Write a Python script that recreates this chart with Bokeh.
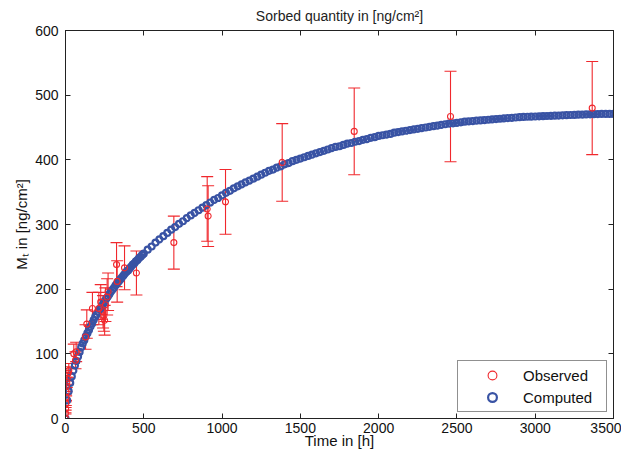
from bokeh.plotting import figure
from bokeh.models import (ColumnDataSource, Range1d, FixedTicker, LinearAxis,
                          Whisker, TeeHead, Legend, LegendItem)
from bokeh.embed import file_html
from bokeh.resources import INLINE

# ---------------- data ----------------
# observed sorbed quantity [ng/cm2] and its error
obs_t = [0, 0, 1, 2, 3, 4, 6, 8, 11, 16, 21, 53, 64, 68, 128, 136,
         172, 213, 225, 240, 245, 250, 255, 266, 272, 326, 330, 377, 453,
         692, 905, 911, 1022, 1384, 1844, 2459, 3364]
obs_v = [0, 8, 15, 23, 33, 41, 50, 56, 62, 70, 74, 100, 90, 103, 126, 146,
         170, 170, 180, 165, 159, 152, 176, 188, 196, 238, 212, 233, 225,
         272, 324, 313, 335, 396, 444, 467, 480]
obs_err = [0, 1, 2, 3, 5, 6, 8, 8, 9, 10, 11, 15, 13, 15, 19, 22,
           25, 25, 27, 25, 24, 23, 26, 28, 29, 34, 32, 34, 34,
           41, 50, 47, 50, 60, 67, 70, 72]

# computed (model) curve, sampled on a regular grid of times
comp_t = list(range(0, 510, 10)) + list(range(525, 3525, 25))
comp_v = [
    0, 28, 42, 55, 65, 74, 82, 89, 96, 103,
    110, 116, 121, 127, 132, 137, 142, 147, 152, 157,
    161, 165, 169, 173, 177, 181, 185, 188, 192, 196,
    199, 202, 206, 209, 212, 215, 218, 221, 224, 227,
    229, 232, 235, 238, 240, 243, 245, 248, 250, 253,
    255,
    261, 266, 272, 277, 282, 287, 292, 296, 301, 305,
    310, 314, 318, 322, 326, 330, 334, 338, 341, 345,
    349, 352, 356, 359, 362, 365, 368, 371, 374, 377,
    380, 383, 385, 388, 390, 393, 395, 398, 400, 402,
    404, 406, 408, 410, 412, 414, 416, 418, 420, 421,
    423, 425, 426, 428, 429, 431, 432, 434, 435, 437,
    438, 439, 440, 442, 443, 444, 445, 446, 447, 448,
    449, 450, 451, 452, 453, 454, 455, 456, 456.5, 457,
    458, 459, 459.5, 460, 460.5, 461, 461.5, 462, 462.5, 463,
    463.5, 464, 464.5, 465, 465.5, 466, 466.3, 466.6, 466.8, 467,
    467.3, 467.5, 467.8, 468, 468.3, 468.5, 468.8, 469, 469.3, 469.5,
    469.8, 470, 470.2, 470.4, 470.6, 470.8, 471, 471, 471, 471,
]

x_ticks = [0, 500, 1000, 1500, 2000, 2500, 3000, 3500]
y_ticks = [0, 100, 200, 300, 400, 500, 600]

title_text = "Sorbed quantity in [ng/cm\u00b2]"
x_label = "Time in [h]"
y_label = "M\u209c in [ng/cm\u00b2]"

# ---------------- figure ----------------
FONT = "Liberation Sans"
RED = "#f0282d"
BLUE = "#3953a4"

p = figure(width=621, height=453, output_backend="svg", toolbar_location=None,
           x_range=Range1d(x_ticks[0], x_ticks[-1]),
           y_range=Range1d(y_ticks[0], y_ticks[-1]),
           min_border_left=65, min_border_right=8, min_border_top=30,
           min_border_bottom=35, x_axis_label=x_label, y_axis_label=y_label)

p.grid.visible = False
p.outline_line_color = "#222222"
p.outline_line_width = 1
p.background_fill_color = "white"
p.border_fill_color = "white"

for ax in (p.xaxis[0], p.yaxis[0]):
    ax.major_tick_in = 5
    ax.major_tick_out = 0
    ax.minor_tick_line_color = None
    ax.axis_line_color = "#222222"
    ax.major_tick_line_color = "#222222"
    ax.major_label_text_font = FONT
    ax.major_label_text_font_size = "14px"
    ax.major_label_text_color = "#111111"
    ax.axis_label_text_font = FONT
    ax.axis_label_text_font_size = "15px"
    ax.axis_label_text_font_style = "normal"
    ax.axis_label_text_color = "#111111"

p.xaxis[0].ticker = FixedTicker(ticks=x_ticks)
p.yaxis[0].ticker = FixedTicker(ticks=y_ticks)
p.xaxis[0].axis_label_standoff = -4
p.xaxis[0].major_label_standoff = 4
p.yaxis[0].axis_label_standoff = 2
p.yaxis[0].major_label_standoff = 7

# top axis carries the chart title as its label; right axis only ticks
top_ax = LinearAxis(ticker=FixedTicker(ticks=x_ticks), major_tick_in=5, major_tick_out=0,
                    minor_tick_line_color=None,
                    major_label_overrides={t: "" for t in x_ticks},
                    major_label_standoff=0, axis_line_color="#222222",
                    major_tick_line_color="#222222",
                    axis_label=title_text, axis_label_standoff=7,
                    axis_label_text_font=FONT, axis_label_text_font_size="14px",
                    axis_label_text_font_style="normal",
                    axis_label_text_color="#222222")
p.add_layout(top_ax, "above")
right_ax = LinearAxis(ticker=FixedTicker(ticks=y_ticks), major_tick_in=5, major_tick_out=0,
                      minor_tick_line_color=None,
                      major_label_overrides={t: "" for t in y_ticks},
                      major_label_standoff=0, axis_line_color="#222222",
                      major_tick_line_color="#222222")
p.add_layout(right_ax, "right")

obs_src = ColumnDataSource(dict(t=obs_t, v=obs_v,
                                lo=[v - e for v, e in zip(obs_v, obs_err)],
                                hi=[v + e for v, e in zip(obs_v, obs_err)]))
comp_src = ColumnDataSource(dict(t=comp_t, v=comp_v))

wh = Whisker(source=obs_src, base="t", upper="hi", lower="lo", dimension="height",
             line_color=RED, line_width=1.1,
             upper_head=TeeHead(size=12, line_color=RED, line_width=1.1),
             lower_head=TeeHead(size=12, line_color=RED, line_width=1.1))
p.add_layout(wh)

r_comp = p.scatter("t", "v", source=comp_src, marker="circle", size=6,
                   fill_color=None, line_color=BLUE, line_width=2.2)
r_obs = p.scatter("t", "v", source=obs_src, marker="circle", size=6,
                  fill_color=None, line_color=RED, line_width=1.1)

legend = Legend(items=[LegendItem(label="Observed", renderers=[r_obs]),
                       LegendItem(label="Computed", renderers=[r_comp])],
                location="bottom_right", margin=6, padding=3,
                glyph_width=62, glyph_height=22, label_width=80, label_height=22,
                label_standoff=0, spacing=0,
                label_text_font=FONT, label_text_font_size="15px",
                label_text_color="#111111",
                border_line_color="#222222", border_line_width=1,
                background_fill_alpha=1)
p.add_layout(legend)

open("out.html", "w").write(file_html(p, INLINE))
